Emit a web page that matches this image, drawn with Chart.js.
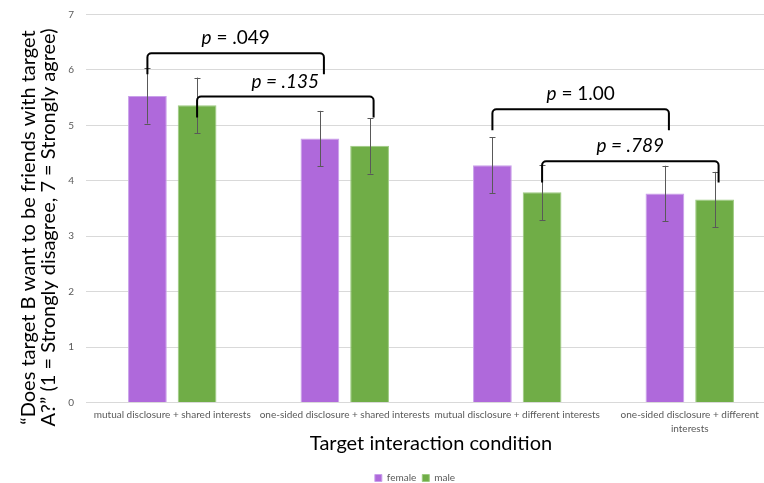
<!DOCTYPE html>
<html>
<head>
<meta charset="utf-8">
<script src="https://cdn.jsdelivr.net/npm/chart.js@4.4.0/dist/chart.umd.min.js"></script>
<style>
  html, body { margin: 0; padding: 0; background: #fff; overflow: hidden; }
  #wrap { width: 830px; height: 493px; position: relative; }
</style>
</head>
<body>
<div id="wrap"><canvas id="friendChart"></canvas></div>
<script>
// data
const categories = [
  'mutual disclosure + shared interests',
  'one-sided disclosure + shared interests',
  'mutual disclosure + different interests',
  ['one-sided disclosure + different', 'interests']
];
const femaleMeans = [5.53, 4.76, 4.28, 3.77];
const maleMeans = [5.36, 4.63, 3.79, 3.66];
const femaleErr = [0.5, 0.5, 0.5, 0.5];
const maleErr = [0.5, 0.5, 0.5, 0.5];
const yTicks = [0, 1, 2, 3, 4, 5, 6, 7];
const yTitle = [
  '\u201cDoes target B want to be friends with target',
  'A?\u201d (1 = Strongly disagree, 7 = Strongly agree)'
];

// significance brackets: series index, from / to category, top value, label
const bracketSeries = [0, 1, 0, 1];
const bracketFrom = [0, 0, 2, 2];
const bracketTo = [1, 1, 3, 3];
const bracketTop = [6.30, 5.52, 5.29, 4.35];
const bracketText = [' = .049', ' = .135', ' = 1.00', ' = .789'];
const bracketItalic = [false, true, false, true];

const FONT = 'Lato, "Open Sans", sans-serif';

const errorBars = {
  id: 'errorBars',
  afterDatasetsDraw(chart) {
    const ctx = chart.ctx;
    const y = chart.scales.y;
    const errs = [femaleErr, maleErr];
    ctx.save();
    ctx.strokeStyle = '#595959';
    ctx.lineWidth = 1;
    chart.data.datasets.forEach((ds, di) => {
      chart.getDatasetMeta(di).data.forEach((bar, i) => {
        const v = ds.data[i];
        const top = y.getPixelForValue(v + errs[di][i]);
        const bot = y.getPixelForValue(v - errs[di][i]);
        const x = Math.round(bar.x) + 0.5;
        ctx.beginPath();
        ctx.moveTo(x, top); ctx.lineTo(x, bot);
        ctx.moveTo(x - 3, Math.round(top) + 0.5); ctx.lineTo(x + 3, Math.round(top) + 0.5);
        ctx.moveTo(x - 3, Math.round(bot) + 0.5); ctx.lineTo(x + 3, Math.round(bot) + 0.5);
        ctx.stroke();
      });
    });
    ctx.restore();
  }
};

const brackets = {
  id: 'brackets',
  afterDatasetsDraw(chart) {
    const ctx = chart.ctx;
    const y = chart.scales.y;
    ctx.save();
    ctx.strokeStyle = '#000';
    ctx.lineWidth = 2;
    bracketTop.forEach((v, k) => {
      const meta = chart.getDatasetMeta(bracketSeries[k]);
      const x1 = meta.data[bracketFrom[k]].x;
      const x2 = meta.data[bracketTo[k]].x + 4;
      const yt = y.getPixelForValue(v);
      const yb = y.getPixelForValue(v - 0.38);
      const r = 4;
      ctx.beginPath();
      ctx.moveTo(x1, yb);
      ctx.arcTo(x1, yt, x1 + r, yt, r);
      ctx.arcTo(x2, yt, x2, yt + r, r);
      ctx.lineTo(x2, yb);
      ctx.stroke();

      // label: italic p, then the value
      const pFont = 'italic 19px ' + FONT;
      const restFont = (bracketItalic[k] ? 'italic ' : '') + '19px ' + FONT;
      ctx.font = pFont;
      const wp = ctx.measureText('p').width;
      ctx.font = restFont;
      const wr = ctx.measureText(bracketText[k]).width;
      const tx = (x1 + x2) / 2 - (wp + wr) / 2;
      const ty = yt - 15;
      ctx.fillStyle = '#000';
      ctx.textBaseline = 'middle';
      ctx.textAlign = 'left';
      ctx.font = pFont;
      ctx.fillText('p', tx, ty);
      ctx.font = restFont;
      ctx.fillText(bracketText[k], tx + wp, ty);
    });
    ctx.restore();
  }
};

// y axis title, two rotated lines (Excel centres it a bit below the plot centre)
const yAxisTitle = {
  id: 'yAxisTitle',
  afterDraw(chart) {
    const ctx = chart.ctx;
    const y = chart.scales.y;
    const cy = y.getPixelForValue(3.5) + 19;
    ctx.save();
    ctx.fillStyle = '#000';
    ctx.font = '20px ' + FONT;
    ctx.textAlign = 'center';
    ctx.textBaseline = 'alphabetic';
    yTitle.forEach((line, i) => {
      ctx.save();
      ctx.translate(35 + i * 20, cy);
      ctx.rotate(-Math.PI / 2);
      ctx.fillText(line, 0, 0);
      ctx.restore();
    });
    ctx.restore();
  }
};

new Chart(document.getElementById('friendChart'), {
  type: 'bar',
  data: {
    labels: categories,
    datasets: [{
      label: 'female',
      data: femaleMeans,
      backgroundColor: '#af69db',
      borderColor: '#c9a0ea',
      borderWidth: 1
    }, {
      label: 'male',
      data: maleMeans,
      backgroundColor: '#70ad47',
      borderColor: '#9dcb80',
      borderWidth: 1
    }]
  },
  options: {
    responsive: true,
    maintainAspectRatio: false,
    animation: false,
    datasets: {
      bar: { categoryPercentage: 0.576, barPercentage: 0.78 }
    },
    layout: { padding: 0 },
    plugins: {
      tooltip: { enabled: false },
      legend: {
        position: 'bottom',
        labels: {
          boxWidth: 7,
          boxHeight: 7,
          padding: 6,
          color: '#595959',
          font: { family: FONT, size: 10 }
        }
      }
    },
    scales: {
      x: {
        grid: { display: false, drawTicks: false },
        border: { display: false },
        ticks: {
          color: '#595959',
          font: { family: FONT, size: 10, lineHeight: 1.4 },
          padding: 5,
          maxRotation: 0,
          minRotation: 0,
          autoSkip: false
        },
        title: {
          display: true,
          text: 'Target interaction condition',
          color: '#000',
          font: { family: FONT, size: 20 },
          padding: { top: 4, bottom: 11 }
        },
        afterFit(s) { s.height = 64.5; }
      },
      y: {
        min: 0,
        max: 7,
        afterBuildTicks(s) { s.ticks = yTicks.map(v => ({ value: v })); },
        grid: { color: '#d9d9d9', drawTicks: false },
        border: { display: false },
        ticks: {
          color: '#595959',
          font: { family: FONT, size: 10 },
          padding: 12
        },
        afterFit(s) { s.width = 86; s.paddingTop = 14.4; }
      },
      // empty right axis: keeps the plot narrower than the (cropped) canvas
      yRight: {
        position: 'right',
        grid: { display: false },
        border: { display: false },
        ticks: { display: false },
        afterFit(s) { s.width = 54; }
      }
    }
  },
  plugins: [errorBars, brackets, yAxisTitle]
});
</script>
</body>
</html>
